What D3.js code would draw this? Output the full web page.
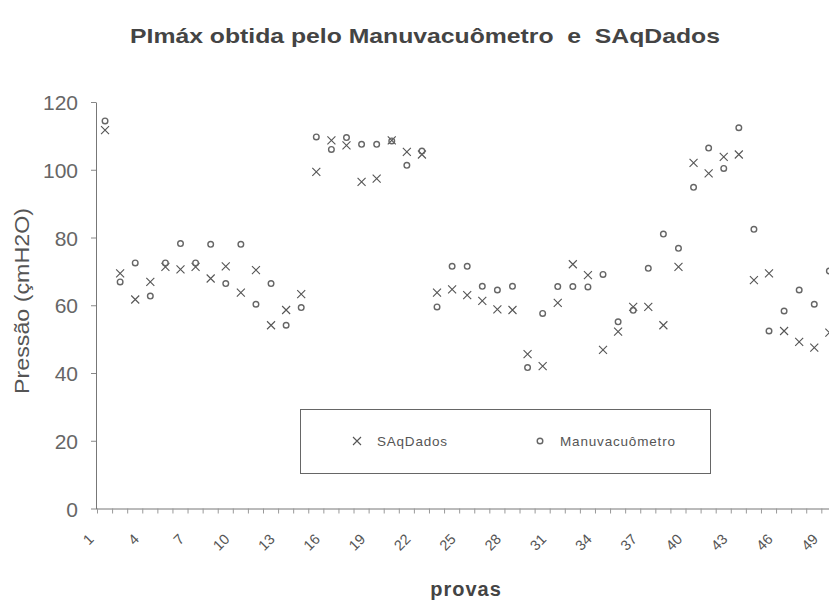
<!DOCTYPE html>
<html>
<head>
<meta charset="utf-8">
<script src="https://cdn.jsdelivr.net/npm/d3@7/dist/d3.min.js"></script>
<style>
  html, body { margin: 0; padding: 0; background: #fff; }
  svg { display: block; font-family: "Liberation Sans", Arial, sans-serif; }
</style>
</head>
<body>
<svg id="chart" width="829" height="601"></svg>
<script>
// Trial numbers (provas)
const provas = [1,2,3,4,5,6,7,8,9,10,11,12,13,14,15,16,17,18,19,20,21,22,23,24,25,
  26,27,28,29,30,31,32,33,34,35,36,37,38,39,40,41,42,43,44,45,46,47,48,49];

// PImáx measured by the SAqDados acquisition system (cmH2O)
const saqDados = [111.7,69.4,61.7,66.9,71.3,70.6,71.3,67.9,71.5,63.7,70.4,54.1,58.6,63.3,
  99.4,108.7,107.2,96.4,97.4,108.7,105.3,104.5,63.7,64.7,63.0,61.3,58.8,58.6,45.6,42.0,
  60.7,72.1,68.9,46.8,52.2,59.5,59.5,54.1,71.3,102.0,98.9,103.8,104.5,67.4,69.4,52.4,
  49.2,47.5,51.9];

// PImáx measured by the manuvacuometer (cmH2O)
const manuvacuometro = [114.4,66.9,72.5,62.7,72.5,78.2,72.5,78.0,66.4,78.0,60.3,66.4,54.1,59.3,
  109.7,106.0,109.5,107.5,107.5,108.5,101.3,105.5,59.5,71.5,71.5,65.6,64.5,65.6,41.6,57.6,
  65.5,65.5,65.4,69.1,55.1,58.5,70.9,81.0,76.8,94.8,106.4,100.4,112.4,82.4,52.4,58.3,
  64.5,60.3,70.1];

const yTicks = [0, 20, 40, 60, 80, 100, 120];

const svg = d3.select("#chart");
const plot = { left: 96, top: 102, bottom: 508.5, bandStart: 97.5, bandWidth: 15.09 };

const x = d3.scaleBand()
  .domain(provas)
  .range([plot.bandStart, plot.bandStart + provas.length * plot.bandWidth])
  .paddingInner(0).paddingOuter(0);

const y = d3.scaleLinear().domain([0, 120]).range([plot.bottom, plot.top]);

const cx = d => x(d) + x.bandwidth() / 2;

// Y axis
const yAxis = svg.append("g")
  .attr("transform", `translate(${plot.left},0)`)
  .call(d3.axisLeft(y).tickValues(yTicks).tickSize(5).tickPadding(13).tickSizeOuter(0));
yAxis.select(".domain").attr("stroke", "#777");
yAxis.selectAll(".tick line").attr("stroke", "#888");
yAxis.selectAll(".tick text")
  .attr("fill", "#666").attr("font-size", 21).attr("dy", "0.36em");

// X axis: tick marks sit on the category boundaries, labels every third trial
const xAxis = svg.append("g")
  .attr("transform", `translate(0,${plot.bottom})`)
  .call(d3.axisBottom(x).tickSize(5).tickSizeOuter(0)
    .tickFormat(d => ((d - 1) % 3 === 0 ? d : "")));
xAxis.select(".domain").attr("stroke", "#777").attr("d", `M${plot.left},0.5H${x.range()[1]}`);
xAxis.selectAll(".tick line").attr("stroke", "#999")
  .attr("transform", `translate(${-x.bandwidth() / 2},0)`);
xAxis.selectAll(".tick text")
  .attr("fill", "#555").attr("font-size", 14.5)
  .attr("text-anchor", "end")
  .attr("x", 0).attr("y", 0).attr("dy", "0.35em")
  .attr("transform", "translate(-14,28) rotate(-45)");

// Markers: SAqDados as crosses
const crossPath = s => `M${-s},${-s}L${s},${s}M${-s},${s}L${s},${-s}`;
svg.append("g").selectAll("path")
  .data(provas.map((p, i) => ({ p, v: saqDados[i] })))
  .join("path")
  .attr("transform", d => `translate(${cx(d.p)},${y(d.v)})`)
  .attr("d", crossPath(4))
  .attr("fill", "none").attr("stroke", "#555").attr("stroke-width", 1.1);

// Markers: manuvacuometer as open circles
svg.append("g").selectAll("circle")
  .data(provas.map((p, i) => ({ p, v: manuvacuometro[i] })))
  .join("circle")
  .attr("cx", d => cx(d.p)).attr("cy", d => y(d.v))
  .attr("r", 2.8)
  .attr("fill", "none").attr("stroke", "#666").attr("stroke-width", 1.4);

// Legend
const legend = svg.append("g");
legend.append("rect")
  .attr("x", 300.5).attr("y", 409.5).attr("width", 410).attr("height", 64)
  .attr("fill", "#fff").attr("stroke", "#666").attr("stroke-width", 1);
legend.append("path")
  .attr("transform", "translate(357,441)")
  .attr("d", crossPath(4))
  .attr("fill", "none").attr("stroke", "#555").attr("stroke-width", 1.1);
legend.append("text")
  .attr("x", 377).attr("y", 446).attr("font-size", 13.5).attr("fill", "#555")
  .attr("textLength", 70).attr("lengthAdjust", "spacing")
  .text("SAqDados");
legend.append("circle")
  .attr("cx", 540).attr("cy", 441).attr("r", 2.8)
  .attr("fill", "none").attr("stroke", "#666").attr("stroke-width", 1.4);
legend.append("text")
  .attr("x", 560).attr("y", 446).attr("font-size", 13.5).attr("fill", "#555")
  .attr("textLength", 115).attr("lengthAdjust", "spacing")
  .text("Manuvacuômetro");

// Titles
svg.append("text")
  .attr("x", 130).attr("y", 43)
  .attr("font-size", 21).attr("font-weight", "bold").attr("fill", "#444")
  .attr("textLength", 590).attr("lengthAdjust", "spacingAndGlyphs")
  .style("white-space", "pre")
  .text("PImáx obtida pelo Manuvacuômetro  e  SAqDados");

svg.append("text")
  .attr("x", 466).attr("y", 596).attr("text-anchor", "middle")
  .attr("font-size", 20).attr("font-weight", "bold").attr("fill", "#444")
  .attr("letter-spacing", 1)
  .text("provas");

svg.append("text")
  .attr("transform", "translate(29,301) rotate(-90)")
  .attr("text-anchor", "middle")
  .attr("font-size", 21).attr("fill", "#555")
  .attr("textLength", 186).attr("lengthAdjust", "spacingAndGlyphs")
  .text("Pressão (çmH2O)");
</script>
</body>
</html>
